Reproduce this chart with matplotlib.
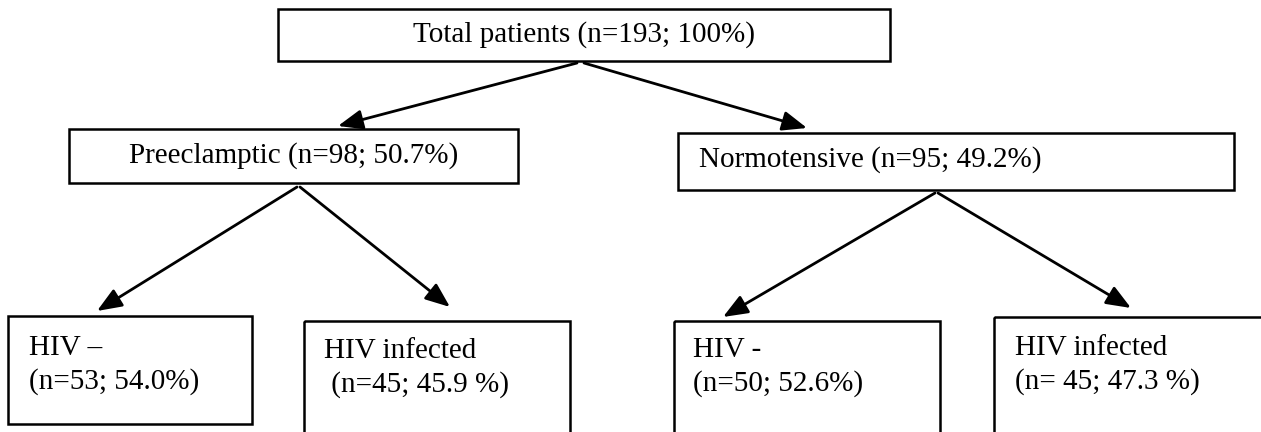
import matplotlib.pyplot as plt
from matplotlib.patches import Rectangle, FancyArrowPatch

plt.rcParams['font.family'] = ['Liberation Serif', 'DejaVu Serif']

# box texts (one list per level)
top_label = "Total patients (n=193; 100%)"
mid_labels = ["Preeclamptic (n=98; 50.7%)", "Normotensive (n=95; 49.2%)"]
leaf_line1 = ["HIV \u2013", "HIV infected", "HIV -", "HIV infected"]
leaf_line2 = ["(n=53; 54.0%)", " (n=45; 45.9 %)", "(n=50; 52.6%)", "(n= 45; 47.3 %)"]

# layout in pixels (x0, y0, x1, y1), y goes down
top_box = (278, 9, 890, 61)
mid_boxes = [(69, 129, 518, 183), (678, 133, 1234, 190)]
leaf_boxes = [(8, 316, 252, 424), (304, 321, 570, 450),
              (674, 321, 940, 450), (994, 317, 1280, 450)]
leaf_text_x = [29, 324, 693, 1015]
leaf_base = [355, 358, 357, 355]

arrows = [((577, 63), (338, 126)), ((584, 63), (807, 128)),
          ((297, 187), (97, 311)), ((300, 187), (450, 307)),
          ((935, 193), (723, 317)), ((938, 193), (1131, 308))]

fs = 21
lw = 1.8

fig = plt.figure(figsize=(12.61, 4.32), dpi=100)
ax = fig.add_axes([0, 0, 1, 1])
ax.set_xlim(0, 1261)
ax.set_ylim(432, 0)
ax.axis('off')


def box(b):
    x0, y0, x1, y1 = b
    ax.add_patch(Rectangle((x0, y0), x1 - x0, y1 - y0, fill=False,
                           edgecolor='black', lw=lw, clip_on=False))


box(top_box)
ax.text((top_box[0] + top_box[2]) / 2, 35, top_label, fontsize=fs,
        ha='center', va='center')

box(mid_boxes[0])
ax.text((mid_boxes[0][0] + mid_boxes[0][2]) / 2, 156, mid_labels[0],
        fontsize=fs, ha='center', va='center')
box(mid_boxes[1])
ax.text(699, 160, mid_labels[1], fontsize=fs, ha='left', va='center')

for b, x, yb, l1, l2 in zip(leaf_boxes, leaf_text_x, leaf_base, leaf_line1, leaf_line2):
    box(b)
    ax.text(x, yb, l1, fontsize=fs, ha='left', va='baseline')
    ax.text(x, yb + 34, l2, fontsize=fs, ha='left', va='baseline')

for a, b in arrows:
    ax.add_patch(FancyArrowPatch(a, b, arrowstyle='-|>,head_length=0.75,head_width=0.3',
                                 mutation_scale=20, lw=2, color='black',
                                 shrinkA=0, shrinkB=0))

fig.savefig('out.png', dpi=100)
